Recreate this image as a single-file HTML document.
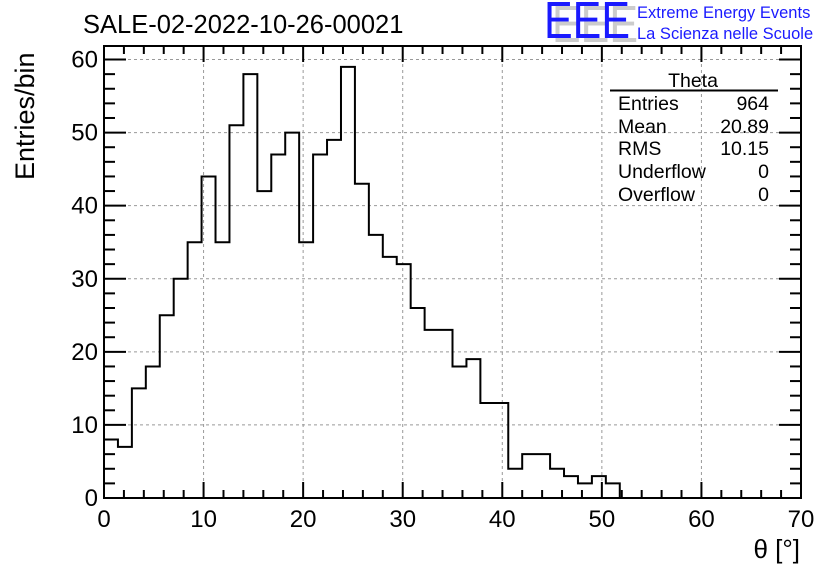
<!DOCTYPE html>
<html><head><meta charset="utf-8"><style>
body{margin:0;background:#fff;}
svg{display:block;font-family:"Liberation Sans",sans-serif;}
</style></head><body>
<svg id="chart" width="836" height="572" xmlns="http://www.w3.org/2000/svg">
<rect width="836" height="572" fill="#fff"/>
<g id="grid"></g>
<g id="hist"></g>
<g id="axes"></g>
<text x="83" y="33" font-size="25.5">SALE-02-2022-10-26-00021</text>
<text x="800" y="558" font-size="26" text-anchor="end">θ [°]</text>
<text transform="translate(34,180) rotate(-90)" font-size="27" text-anchor="start">Entries/bin</text>
<g>
<text x="552" y="42" font-size="52" fill="#ccc" textLength="86" lengthAdjust="spacingAndGlyphs">EEE</text>
<text x="544" y="38" font-size="52" fill="#1a1aff" textLength="86" lengthAdjust="spacingAndGlyphs">EEE</text>
<text x="637" y="18" font-size="16.5" fill="#1a1aff">Extreme Energy Events</text>
<text x="637" y="39" font-size="16.5" fill="#1a1aff">La Scienza nelle Scuole</text>
</g>
<g font-size="19.5">
<text x="693" y="87" text-anchor="middle">Theta</text>
<line x1="610" y1="90.5" x2="778" y2="90.5" stroke="#000" stroke-width="2"/>
<text x="618" y="110">Entries</text><text x="769" y="110" text-anchor="end">964</text>
<text x="618" y="133">Mean</text><text x="769" y="133" text-anchor="end">20.89</text>
<text x="618" y="155">RMS</text><text x="769" y="155" text-anchor="end">10.15</text>
<text x="618" y="178">Underflow</text><text x="769" y="178" text-anchor="end">0</text>
<text x="618" y="201">Overflow</text><text x="769" y="201" text-anchor="end">0</text>
</g>
</svg>
<script>
var binCounts=[8,7,15,18,25,30,35,44,35,51,58,42,47,50,35,47,49,59,43,36,33,32,26,23,23,18,19,13,13,4,6,6,4,3,2,3,2,0,0,0,0,0,0,0,0,0,0,0,0,0];
var xTicks=[0,10,20,30,40,50,60,70];
var yTicks=[0,10,20,30,40,50,60];
var binWidth=1.4, xMin=0, xMax=70, yMin=0, yMax=61.85;
var L=104,R=801,T=46,B=498;
var NS="http://www.w3.org/2000/svg";
function sx(v){return L+(v-xMin)/(xMax-xMin)*(R-L);}
function sy(v){return B-(v-yMin)/(yMax-yMin)*(B-T);}
function mk(tag,attrs,parent){var e=document.createElementNS(NS,tag);for(var k in attrs)e.setAttribute(k,attrs[k]);parent.appendChild(e);return e;}
var grid=document.getElementById('grid'),hist=document.getElementById('hist'),axes=document.getElementById('axes');
xTicks.forEach(function(v){if(v>xMin&&v<xMax){var l=mk('line',{x1:sx(v),x2:sx(v),y1:T,y2:B,stroke:'#999','stroke-dasharray':'3,3'},grid);

}});
yTicks.forEach(function(v){if(v>yMin){var l=mk('line',{x1:L,x2:R,y1:sy(v),y2:sy(v),stroke:'#999','stroke-dasharray':'3,3'},grid);

}});
var d='M'+sx(0)+','+sy(0);
binCounts.forEach(function(c,i){d+=' L'+sx(i*binWidth)+','+sy(c)+' L'+sx((i+1)*binWidth)+','+sy(c);});
var p=mk('path',{d:d,fill:'none',stroke:'#000','stroke-width':2},hist);


var fr=mk('rect',{x:L,y:T,width:R-L,height:B-T,fill:'none',stroke:'#000','stroke-width':2},axes);


for(var v=xMin;v<=xMax;v+=2){var len=(v%10===0)?16:8;
mk('line',{x1:sx(v),x2:sx(v),y1:B,y2:B-len,stroke:'#000','stroke-width':2},axes);
mk('line',{x1:sx(v),x2:sx(v),y1:T,y2:T+len,stroke:'#000','stroke-width':2},axes);}
for(var w=yMin;w<=yMax;w+=2){var ln=(w%10===0)?22:11;
mk('line',{x1:L,x2:L+ln,y1:sy(w),y2:sy(w),stroke:'#000','stroke-width':2},axes);
mk('line',{x1:R,x2:R-ln,y1:sy(w),y2:sy(w),stroke:'#000','stroke-width':2},axes);}
xTicks.forEach(function(v){var t=mk('text',{x:sx(v),y:B+29,'font-size':24,'text-anchor':'middle'},axes);t.textContent=v;

});
yTicks.forEach(function(v){var t=mk('text',{x:L-6,y:sy(v)+8,'font-size':24,'text-anchor':'end'},axes);t.textContent=v;

});
</script>
</body></html>
